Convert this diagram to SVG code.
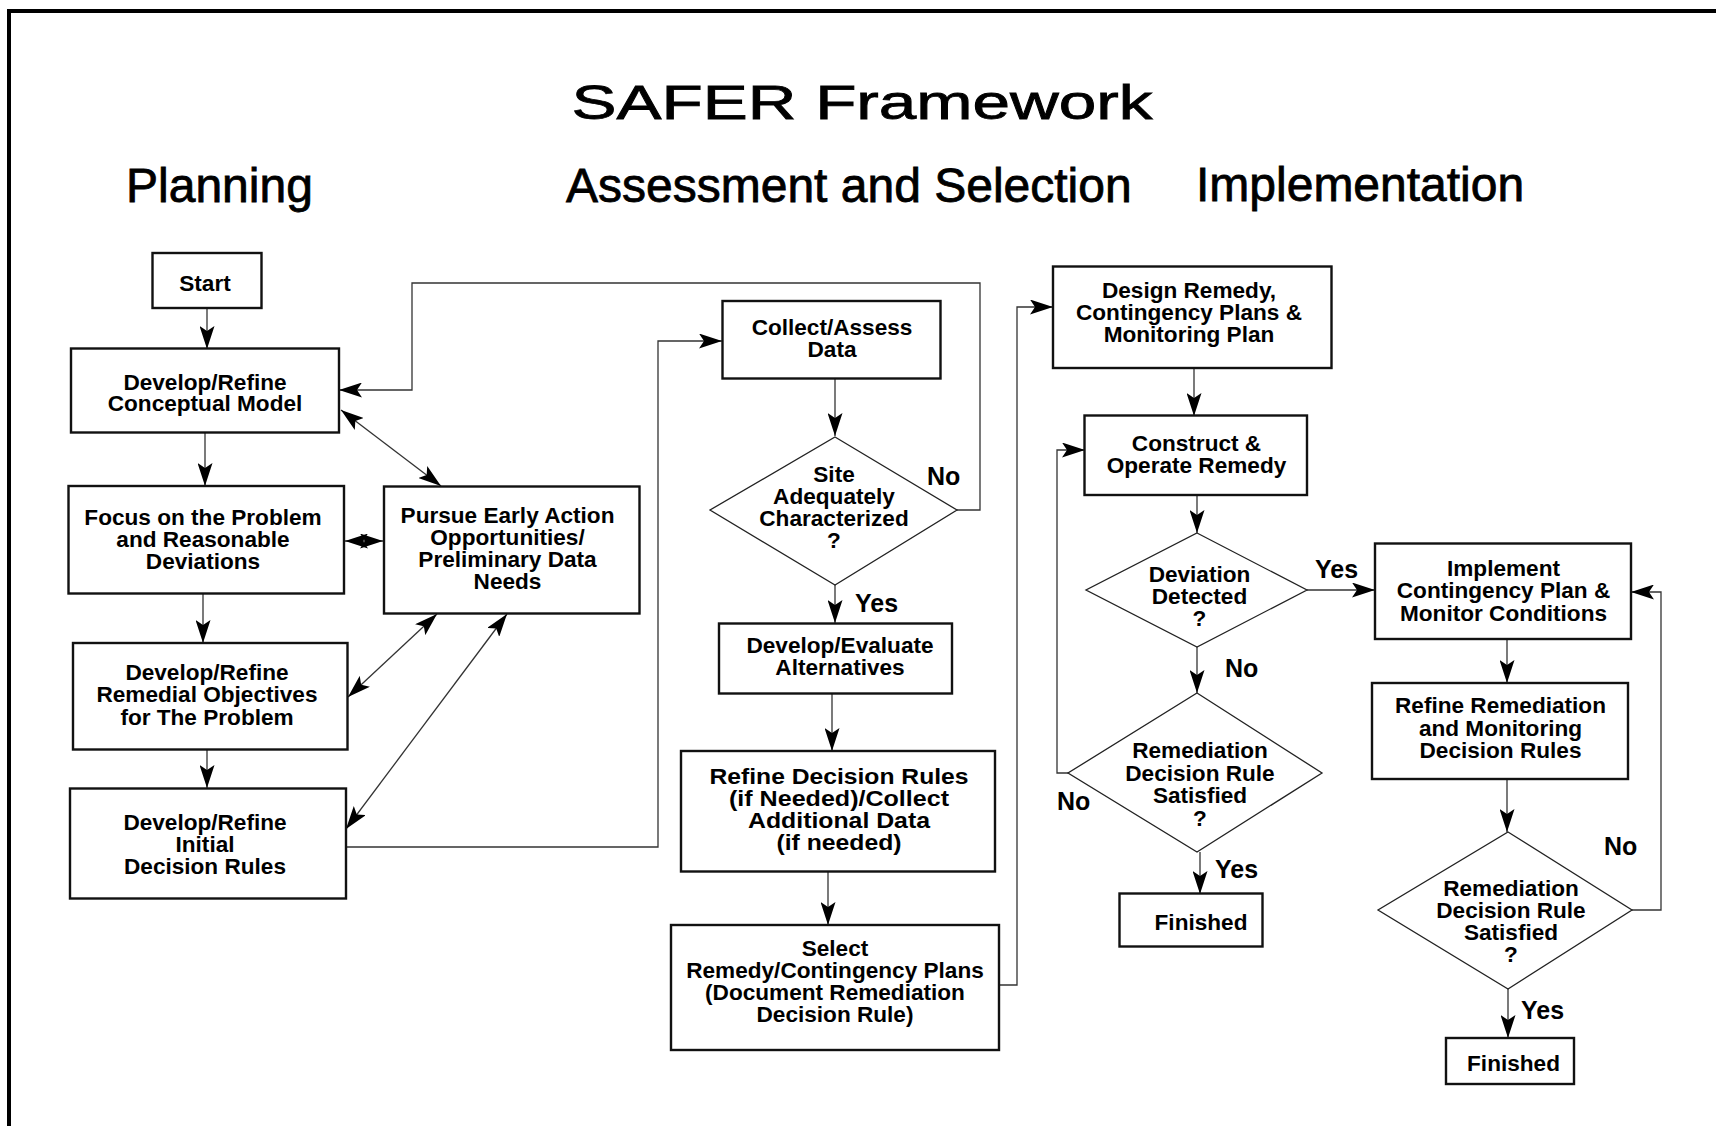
<svg xmlns="http://www.w3.org/2000/svg" width="1716" height="1126" viewBox="0 0 1716 1126">
<defs>
<marker id="ah" markerUnits="userSpaceOnUse" viewBox="0 0 23 15" markerWidth="23" markerHeight="15" refX="23" refY="7.5" orient="auto-start-reverse">
<path d="M0,0 L23,7.5 L0,15 L5,7.5 Z" fill="#000"/>
</marker>
<style>
.box{fill:#fff;stroke:#111;stroke-width:2.4}
.dia{fill:#fff;stroke:#222;stroke-width:1.3}
.t{font-family:"Liberation Sans",Arial,sans-serif;font-weight:bold;font-size:22.6px;fill:#000;text-anchor:middle}
.lbl{font-family:"Liberation Sans",Arial,sans-serif;font-weight:bold;font-size:25px;fill:#000}
.hd{font-family:"Liberation Sans",Arial,sans-serif;font-size:48px;fill:#000;stroke:#000;stroke-width:0.8}
.c{fill:none;stroke:#333;stroke-width:1.3}
.e{marker-end:url(#ah)}
.b{marker-start:url(#ah);marker-end:url(#ah)}
</style>
</defs>
<rect width="1716" height="1126" fill="#fff"/>
<path d="M9,1126 V11 H1716" fill="none" stroke="#000" stroke-width="4"/>
<g id="headings">
<text class="hd" x="862" y="119" text-anchor="middle" font-size="66" stroke-width="1" textLength="581" lengthAdjust="spacingAndGlyphs">SAFER Framework</text>
<text class="hd" x="126" y="202">Planning</text>
<text class="hd" x="566" y="202">Assessment and Selection</text>
<text class="hd" x="1196" y="201">Implementation</text>
</g>
<g id="connectors">
<path class="c e" d="M207,308 V349"/>
<path class="c e" d="M205,433 V486"/>
<path class="c e" d="M203,594 V643"/>
<path class="c e" d="M207,750 V788"/>
<path class="c b" d="M345,541 H383"/>
<path class="c b" d="M341,410 L441,486"/>
<path class="c b" d="M348,697 L437,614"/>
<path class="c b" d="M346,829 L507,614"/>
<path class="c e" d="M346,847 H658 V341 H722"/>
<path class="c e" d="M835,379 V436"/>
<path class="c e" d="M957,510 H980 V283 H412 V390 H339"/>
<path class="c e" d="M835,585 V623"/>
<path class="c e" d="M832,693 V751"/>
<path class="c e" d="M828,871 V925"/>
<path class="c e" d="M999,985 H1017 V307 H1053"/>
<path class="c e" d="M1194,368 V416"/>
<path class="c e" d="M1197,495 V533"/>
<path class="c e" d="M1307,590 H1375"/>
<path class="c e" d="M1197,647 V693"/>
<path class="c e" d="M1068,773 H1057 V450 H1085"/>
<path class="c e" d="M1200,852 V894"/>
<path class="c e" d="M1507,639 V683"/>
<path class="c e" d="M1507,779 V832"/>
<path class="c e" d="M1632,910 H1661 V592 H1631"/>
<path class="c e" d="M1508,989 V1038"/>
</g>
<g id="labels">
<text class="lbl" x="927" y="485">No</text>
<text class="lbl" x="855" y="612">Yes</text>
<text class="lbl" x="1315" y="578">Yes</text>
<text class="lbl" x="1225" y="677">No</text>
<text class="lbl" x="1057" y="810">No</text>
<text class="lbl" x="1215" y="878">Yes</text>
<text class="lbl" x="1604" y="855">No</text>
<text class="lbl" x="1521" y="1019">Yes</text>
</g>
<g id="start">
<rect class="box" x="152.5" y="253" width="109" height="55"/>
<text class="t" x="205" y="290.5">Start</text>
</g>
<g id="conceptual-model">
<rect class="box" x="71" y="348.5" width="268" height="84"/>
<text class="t" x="205" y="389.5">Develop/Refine</text>
<text class="t" x="205" y="411">Conceptual Model</text>
</g>
<g id="focus-problem">
<rect class="box" x="68.5" y="486" width="275.5" height="107.5"/>
<text class="t" x="203" y="524.5">Focus on the Problem</text>
<text class="t" x="203" y="547">and Reasonable</text>
<text class="t" x="203" y="568.5">Deviations</text>
</g>
<g id="early-action">
<rect class="box" x="384" y="486.5" width="255.5" height="127"/>
<text class="t" x="507.5" y="523">Pursue Early Action</text>
<text class="t" x="507.5" y="544.5">Opportunities/</text>
<text class="t" x="507.5" y="567">Preliminary Data</text>
<text class="t" x="507.5" y="588.5">Needs</text>
</g>
<g id="remedial-objectives">
<rect class="box" x="73" y="643" width="274.5" height="106.5"/>
<text class="t" x="207" y="679.5">Develop/Refine</text>
<text class="t" x="207" y="702">Remedial Objectives</text>
<text class="t" x="207" y="724.5">for The Problem</text>
</g>
<g id="initial-decision-rules">
<rect class="box" x="70" y="788.5" width="276" height="110"/>
<text class="t" x="205" y="829.5">Develop/Refine</text>
<text class="t" x="205" y="851.5">Initial</text>
<text class="t" x="205" y="873.5">Decision Rules</text>
</g>
<g id="collect-assess">
<rect class="box" x="722.5" y="301" width="218" height="77.5"/>
<text class="t" x="832" y="334.5">Collect/Assess</text>
<text class="t" x="832" y="356.5">Data</text>
</g>
<g id="site-characterized">
<polygon class="dia" points="835,437 957,510 835,585 710,510"/>
<text class="t" x="834" y="481.5">Site</text>
<text class="t" x="834" y="504">Adequately</text>
<text class="t" x="834" y="525.5">Characterized</text>
<text class="t" x="834" y="548">?</text>
</g>
<g id="alternatives">
<rect class="box" x="719" y="623.5" width="233" height="70"/>
<text class="t" x="840" y="653">Develop/Evaluate</text>
<text class="t" x="840" y="674.5">Alternatives</text>
</g>
<g id="refine-decision-rules">
<rect class="box" x="681" y="751" width="314" height="120.5"/>
<text class="t" x="839" y="783.5" textLength="259" lengthAdjust="spacingAndGlyphs">Refine Decision Rules</text>
<text class="t" x="839" y="805.5" textLength="220" lengthAdjust="spacingAndGlyphs">(if Needed)/Collect</text>
<text class="t" x="839" y="828" textLength="182" lengthAdjust="spacingAndGlyphs">Additional Data</text>
<text class="t" x="839" y="850" textLength="125" lengthAdjust="spacingAndGlyphs">(if needed)</text>
</g>
<g id="select-remedy">
<rect class="box" x="671" y="925" width="328" height="125"/>
<text class="t" x="835" y="955.5">Select</text>
<text class="t" x="835" y="977.5">Remedy/Contingency Plans</text>
<text class="t" x="835" y="999.5">(Document Remediation</text>
<text class="t" x="835" y="1021.5">Decision Rule)</text>
</g>
<g id="design-remedy">
<rect class="box" x="1053" y="266.5" width="278.5" height="101.5"/>
<text class="t" x="1189" y="298">Design Remedy,</text>
<text class="t" x="1189" y="319.5">Contingency Plans &amp;</text>
<text class="t" x="1189" y="342">Monitoring Plan</text>
</g>
<g id="construct-operate">
<rect class="box" x="1084.5" y="415.5" width="222.5" height="79.5"/>
<text class="t" x="1196.5" y="450.5">Construct &amp;</text>
<text class="t" x="1196.5" y="473">Operate Remedy</text>
</g>
<g id="deviation-detected">
<polygon class="dia" points="1197,533 1307,590 1197,647 1086,590"/>
<text class="t" x="1199.5" y="581.5">Deviation</text>
<text class="t" x="1199.5" y="603.5">Detected</text>
<text class="t" x="1199.5" y="626">?</text>
</g>
<g id="rule-satisfied-1">
<polygon class="dia" points="1197,693 1322,773 1197,852 1068,773"/>
<text class="t" x="1200" y="758">Remediation</text>
<text class="t" x="1200" y="780.5">Decision Rule</text>
<text class="t" x="1200" y="803">Satisfied</text>
<text class="t" x="1200" y="826">?</text>
</g>
<g id="finished-1">
<rect class="box" x="1119.5" y="893.5" width="143" height="53"/>
<text class="t" x="1201" y="929.5">Finished</text>
</g>
<g id="implement-contingency">
<rect class="box" x="1375" y="543.5" width="256" height="95.5"/>
<text class="t" x="1503.5" y="576">Implement</text>
<text class="t" x="1503.5" y="598">Contingency Plan &amp;</text>
<text class="t" x="1503.5" y="621">Monitor Conditions</text>
</g>
<g id="refine-remediation">
<rect class="box" x="1372" y="683" width="256" height="96"/>
<text class="t" x="1500.5" y="713">Refine Remediation</text>
<text class="t" x="1500.5" y="736">and Monitoring</text>
<text class="t" x="1500.5" y="758">Decision Rules</text>
</g>
<g id="rule-satisfied-2">
<polygon class="dia" points="1508,832 1632,910 1508,989 1378,910"/>
<text class="t" x="1511" y="895.5">Remediation</text>
<text class="t" x="1511" y="917.5">Decision Rule</text>
<text class="t" x="1511" y="939.5">Satisfied</text>
<text class="t" x="1511" y="961.5">?</text>
</g>
<g id="finished-2">
<rect class="box" x="1446" y="1038" width="128" height="46"/>
<text class="t" x="1513.5" y="1071">Finished</text>
</g>
</svg>
